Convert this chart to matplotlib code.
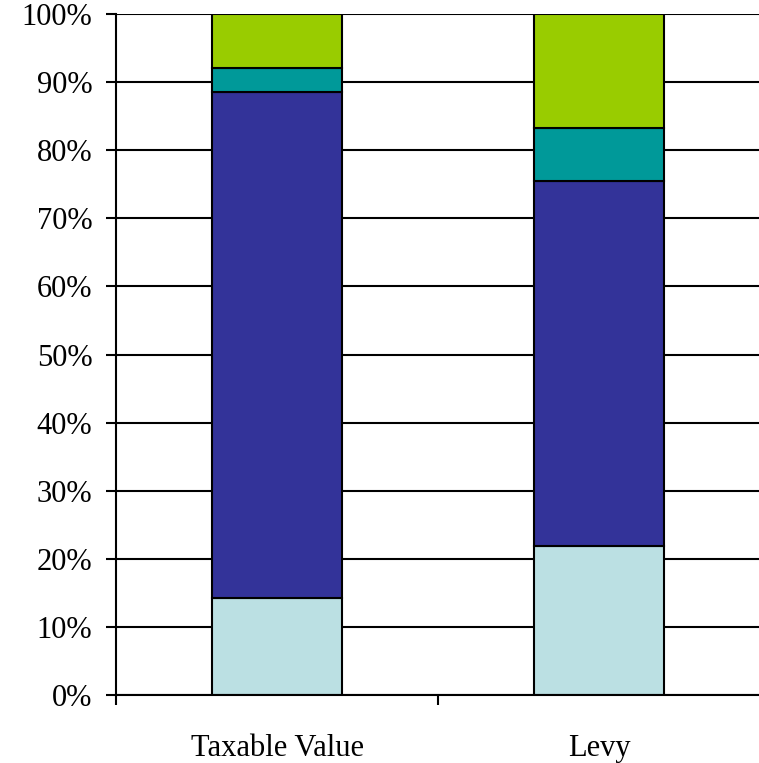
import numpy as np
import matplotlib
matplotlib.use("Agg")
import matplotlib.pyplot as plt
from matplotlib.ticker import FixedLocator, PercentFormatter

# stacked shares (percent of total), bottom segment first
categories = ["Taxable Value", "Levy"]
seg1 = [14.3, 21.9]
seg2 = [74.2, 53.6]
seg3 = [3.6, 7.8]
seg4 = [7.9, 16.7]
colors = ["#BBE0E3", "#333399", "#009999", "#99CC00"]

plt.rcParams["font.family"] = ["Liberation Serif", "DejaVu Serif"]

fig = plt.figure(figsize=(7.59, 7.63), dpi=100)
ax = fig.add_axes([116 / 759, 68 / 763, 1 - 116 / 759 + 0.002, 681 / 763])

x = np.arange(len(categories))
bottom = np.zeros(len(categories))
for vals, c in zip([seg1, seg2, seg3, seg4], colors):
    ax.bar(x, vals, width=0.404, bottom=bottom, color=c,
           edgecolor="black", linewidth=1.5, zorder=3)
    bottom += np.array(vals)

ax.set_xlim(-0.5, 1.5)
ax.set_ylim(0, 100)
ax.set_yticks(np.arange(0, 101, 10))
ax.yaxis.set_major_formatter(PercentFormatter(decimals=0))
ax.grid(axis="y", color="black", linewidth=1.5, zorder=0)

# category boundaries carry the tick marks, names sit between them
ax.xaxis.set_major_locator(FixedLocator([-0.5, 0.5, 1.5]))
ax.xaxis.set_minor_locator(FixedLocator(x))
ax.set_xticklabels([])
ax.set_xticklabels(categories, minor=True)
ax.tick_params(axis="x", which="major", direction="out", length=7, width=1.5)
ax.tick_params(axis="x", which="minor", length=0, pad=28, labelsize=22)
ax.tick_params(axis="y", direction="out", length=7, width=1.5, labelsize=22, pad=10)

for s in ["top", "right"]:
    ax.spines[s].set_visible(False)
for s in ["left", "bottom"]:
    ax.spines[s].set_linewidth(1.5)
    ax.spines[s].set_zorder(4)

fig.savefig("out.png", dpi=100)
